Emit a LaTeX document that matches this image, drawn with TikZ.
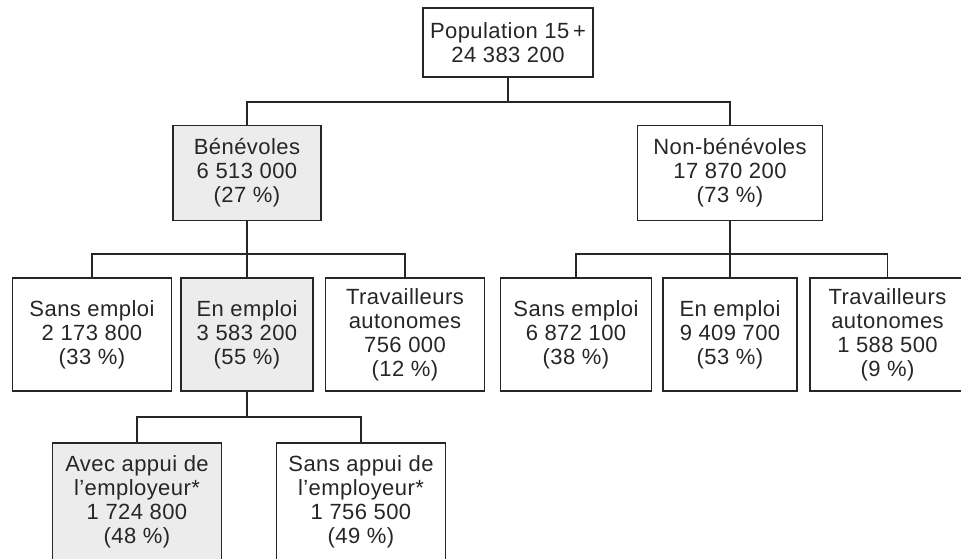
\documentclass[tikz,border=0pt]{standalone}
\usepackage{fontspec}
\setmainfont[LetterSpace=2]{Liberation Sans}
\definecolor{ink}{RGB}{38,38,38}
\definecolor{shade}{RGB}{236,236,236}
\begin{document}
\begin{tikzpicture}[x=1pt,y=-1pt,
  box/.style={draw=ink, line width=1.3pt, text=ink, align=center, inner sep=0pt,
    font=\fontsize{22}{24}\selectfont},
  grey/.style={box, fill=shade},
  link/.style={draw=ink, line width=1.3pt}]
\useasboundingbox (0,0) rectangle (961,558);
\clip (0,0) rectangle (961,558);
% level 1
\node[box, minimum width=170pt, minimum height=69pt] (pop) at (508,42.5) {Population 15\,+\\24 383 200};
% level 2
\node[grey, minimum width=148pt, minimum height=95pt] (ben) at (247,173) {Bénévoles\\6 513 000\\(27 \%)};
\node[box, minimum width=185pt, minimum height=95pt] (nben) at (730,173) {Non-bénévoles\\17 870 200\\(73 \%)};
% level 3
\node[box, minimum width=159pt, minimum height=113pt] (s1) at (92,334.5) {Sans emploi\\2 173 800\\(33 \%)};
\node[grey, minimum width=132pt, minimum height=113pt] (e1) at (247,334.5) {En emploi\\3 583 200\\(55 \%)};
\node[box, minimum width=159pt, minimum height=113pt] (t1) at (405,334.5) {Travailleurs\\autonomes\\756 000\\(12 \%)};
\node[box, minimum width=151pt, minimum height=113pt] (s2) at (576,334.5) {Sans emploi\\6 872 100\\(38 \%)};
\node[box, minimum width=134pt, minimum height=113pt] (e2) at (730,334.5) {En emploi\\9 409 700\\(53 \%)};
\node[box, minimum width=155pt, minimum height=113pt] (t2) at (887.5,334.5) {Travailleurs\\autonomes\\1 588 500\\(9 \%)};
% level 4
\node[grey, minimum width=169pt, minimum height=118pt] (a) at (137,502) {Avec appui de\\l’employeur*\\1 724 800\\(48 \%)};
\node[box, minimum width=169pt, minimum height=118pt] (sa) at (361,502) {Sans appui de\\l’employeur*\\1 756 500\\(49 \%)};
% bus coordinates
\coordinate (b1) at (508,102);
\coordinate (b2) at (247,254);
\coordinate (b3) at (730,254);
\coordinate (b4) at (247,417);
% connectors
\draw[link] (pop.south) -- (b1);
\draw[link] (ben.north) |- (b1) -| (nben.north);
\draw[link] (ben.south) -- (e1.north);
\draw[link] (s1.north) |- (b2) -| (t1.north);
\draw[link] (nben.south) -- (e2.north);
\draw[link] (s2.north) |- (b3) -| (t2.north);
\draw[link] (e1.south) -- (b4);
\draw[link] (a.north) |- (b4) -| (sa.north);
\end{tikzpicture}
\end{document}
